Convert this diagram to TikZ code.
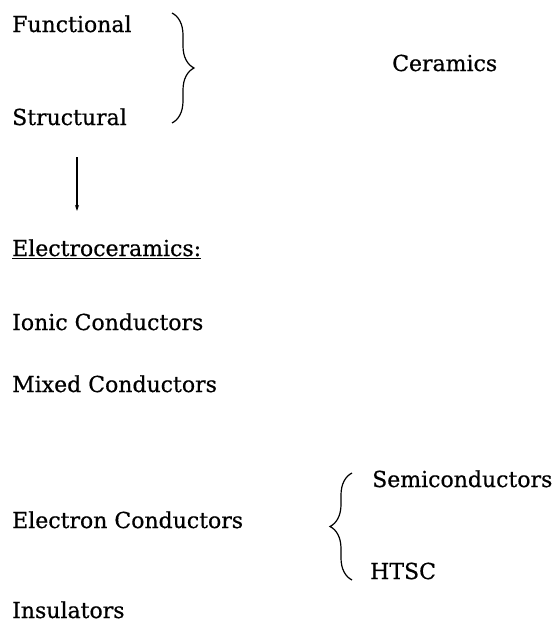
\documentclass[tikz,border=0pt]{standalone}
\usepackage{fontspec}
\setmainfont{DejaVu Serif}[FakeBold=0.6]
\usetikzlibrary{decorations.pathreplacing,arrows.meta}
\begin{document}
\begin{tikzpicture}[x=1pt,y=-1pt,
  lbl/.style={anchor=base west,inner sep=0pt,font=\fontsize{22}{26}\selectfont},
  bracestyle/.style={decorate,decoration={brace,amplitude=22pt,aspect=0.5},line width=1.2pt},
  arr/.style={-{Stealth[length=6pt,width=4pt]},line width=1.1pt}]
\useasboundingbox (0,0) rectangle (557,624);
\node[lbl] (func) at (12,32) {Functional};
\node[lbl] (struct) at (12,125) {Structural};
\node[lbl] (cer) at (392,71) {Ceramics};
\node[lbl] (elc) at (12,256) {\underline{Electroceramics:}};
\node[lbl] (ion) at (12,330) {Ionic Conductors};
\node[lbl] (mix) at (12,392) {Mixed Conductors};
\node[lbl] (econ) at (12,528) {Electron Conductors};
\node[lbl] (semi) at (372,487) {Semiconductors};
\node[lbl] (htsc) at (370,579) {HTSC};
\node[lbl] (ins) at (12,618) {Insulators};
\coordinate (atop) at (77,157);
\coordinate (abot) at (77,211);
\draw[arr] (atop) -- (abot);
\coordinate (b1t) at (172,13);
\coordinate (b1b) at (172,123);
\draw[bracestyle] (b1t) -- (b1b);
\coordinate (b2t) at (352,473);
\coordinate (b2b) at (352,580);
\draw[bracestyle] (b2b) -- (b2t);
\end{tikzpicture}
\end{document}
